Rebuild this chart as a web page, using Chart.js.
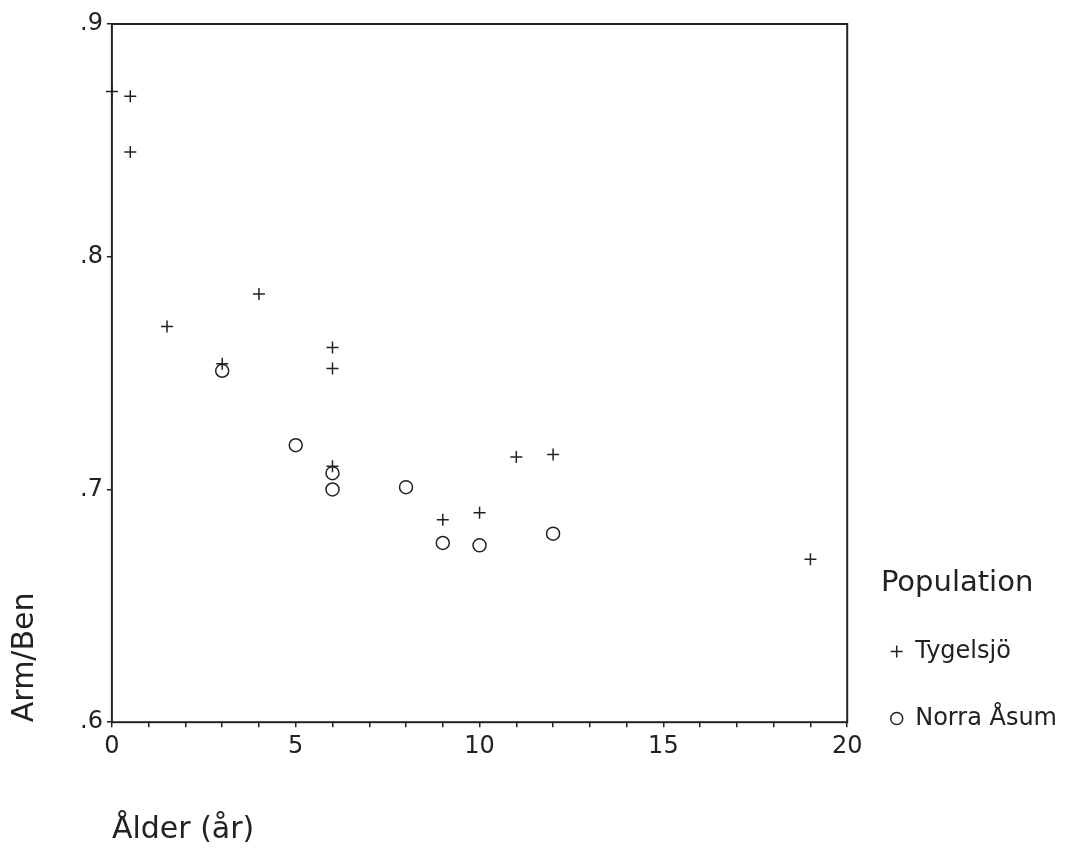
<!DOCTYPE html>
<html lang="sv">
<head>
<meta charset="utf-8">
<title>Arm/Ben mot ålder</title>
<script src="https://cdn.jsdelivr.net/npm/chart.js@4.4.1/dist/chart.umd.min.js"></script>
<style>
  body { margin: 0; background: #fff; }
  #ruta { width: 1077px; height: 850px; }
</style>
</head>
<body>
<div id="ruta"><canvas id="grafico"></canvas></div>
<script>
// Tygelsjö (+)
const tygelsjoAlder = [0, 0.5, 0.5, 1.5, 3, 4, 6, 6, 6, 9, 10, 11, 12, 19]
const tygelsjoKvot = [.871, .869, .845, .770, .754, .784, .761, .752, .710, .687, .690, .714, .715, .670]
// Norra Åsum (o)
const norraAlder = [3, 5, 6, 6, 8, 9, 10, 12]
const norraKvot = [.751, .719, .707, .700, .701, .677, .676, .681]

const serieNamn = ['Tygelsjö', 'Norra Åsum']
const xEtiketter = ['0', '5', '10', '15', '20']
const yEtiketter = ['.6', '.7', '.8', '.9']

const svart = '#222'
const typsnitt = 'DejaVu Sans'

function punkter(xs, ys) {
    return xs.map((x, i) => ({ x: x, y: ys[i] }))
}

// ram runt hela ritytan
const ram = {
    id: 'ram',
    afterDatasetsDraw(chart) {
        const a = chart.chartArea
        const ctx = chart.ctx
        ctx.save()
        ctx.strokeStyle = svart
        ctx.lineWidth = 2
        ctx.strokeRect(a.left, a.top, a.right - a.left, a.bottom - a.top)
        ctx.restore()
    }
}

const ctx = document.getElementById('grafico').getContext('2d')
const chart = new Chart(ctx, {
    type: 'scatter',
    data: {
        datasets: [{
            label: serieNamn[0],
            data: punkter(tygelsjoAlder, tygelsjoKvot),
            pointStyle: 'cross',
            pointRadius: 6,
            pointBorderWidth: 1.5,
            borderColor: svart,
            backgroundColor: svart,
            clip: false
        }, {
            label: serieNamn[1],
            data: punkter(norraAlder, norraKvot),
            pointStyle: 'circle',
            pointRadius: 6.5,
            pointBorderWidth: 1.5,
            borderColor: svart,
            backgroundColor: 'rgba(255,255,255,0)',
            clip: false
        }]
    },
    options: {
        responsive: true,
        maintainAspectRatio: false,
        animation: false,
        layout: { padding: { top: 24, right: 10, bottom: 0, left: 0 } },
        scales: {
            x: {
                type: 'linear',
                min: 0,
                max: 20,
                border: { display: false },
                grid: { display: true, drawOnChartArea: false, drawTicks: true, tickLength: 5, color: svart, lineWidth: 1.5 },
                ticks: {
                    stepSize: 1,
                    autoSkip: false,
                    maxRotation: 0,
                    padding: 5,
                    color: svart,
                    font: { family: typsnitt, size: 24 },
                    callback: v => (v % 5 === 0 ? xEtiketter[v / 5] : '')
                },
                title: {
                    display: true,
                    text: 'Ålder (år)',
                    align: 'start',
                    color: svart,
                    font: { family: typsnitt, size: 30 },
                    padding: { top: 46, bottom: 2 }
                }
            },
            y: {
                min: 0.6,
                max: 0.9,
                border: { display: false },
                grid: { display: true, drawOnChartArea: false, drawTicks: true, tickLength: 5, color: svart, lineWidth: 1.5 },
                ticks: {
                    stepSize: 0.1,
                    padding: 4,
                    color: svart,
                    font: { family: typsnitt, size: 24 },
                    callback: v => yEtiketter[Math.round((v - 0.6) * 10)]
                },
                title: {
                    display: true,
                    text: 'Arm/Ben',
                    align: 'start',
                    color: svart,
                    font: { family: typsnitt, size: 30 },
                    padding: { top: 7, bottom: 33 }
                }
            }
        },
        plugins: {
            tooltip: { enabled: false },
            legend: {
                position: 'right',
                align: 'start',
                title: {
                    display: true,
                    text: 'Population',
                    position: 'center',
                    color: svart,
                    font: { family: typsnitt, size: 29, lineHeight: 0.95 },
                    padding: { top: 545, bottom: 0 }
                },
                labels: {
                    usePointStyle: true,
                    boxWidth: 13,
                    boxHeight: 8.5,
                    padding: 43,
                    color: svart,
                    font: { family: typsnitt, size: 24 }
                }
            }
        }
    },
    plugins: [ram]
})
</script>
</body>
</html>
